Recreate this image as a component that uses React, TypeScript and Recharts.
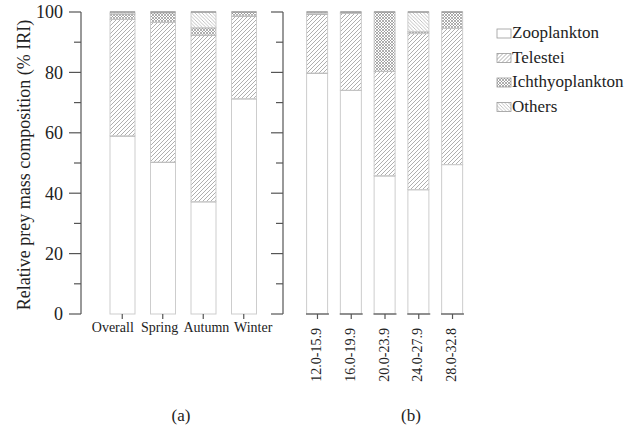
import React from "react";
import { BarChart, Bar, XAxis, YAxis } from "recharts";

// panel (a): by season
const seasonLabels = ["Overall", "Spring", "Autumn", "Winter"];
const seasonZooplankton = [59.0, 50.3, 37.2, 71.3];
const seasonTelestei = [38.6, 46.3, 55.2, 27.4];
const seasonIchthyoplankton = [1.8, 3.2, 2.4, 1.3];
const seasonOthers = [0.6, 0.2, 5.2, 0.0];

// panel (b): by size class
const sizeLabels = ["12.0-15.9", "16.0-19.9", "20.0-23.9", "24.0-27.9", "28.0-32.8"];
const sizeZooplankton = [79.8, 74.1, 45.8, 41.2, 49.5];
const sizeTelestei = [19.5, 25.5, 34.6, 51.7, 45.1];
const sizeIchthyoplankton = [0.2, 0.4, 19.6, 0.6, 5.4];
const sizeOthers = [0.5, 0.0, 0.0, 6.5, 0.0];

const yTicks = [0, 10, 20, 30, 40, 50, 60, 70, 80, 90, 100];
const yLabel = "Relative prey mass composition (% IRI)";

const series = [
  { key: "zoo", name: "Zooplankton", fill: "#ffffff" },
  { key: "tel", name: "Telestei", fill: "url(#patTel)" },
  { key: "ich", name: "Ichthyoplankton", fill: "url(#patIch)" },
  { key: "oth", name: "Others", fill: "url(#patOth)" },
];

const seasonRows = seasonLabels.map((label, i) => ({
  label,
  zoo: seasonZooplankton[i],
  tel: seasonTelestei[i],
  ich: seasonIchthyoplankton[i],
  oth: seasonOthers[i],
}));

const sizeRows = sizeLabels.map((label, i) => ({
  label,
  zoo: sizeZooplankton[i],
  tel: sizeTelestei[i],
  ich: sizeIchthyoplankton[i],
  oth: sizeOthers[i],
}));

const FONT = '"Liberation Serif", "Times New Roman", serif';
const INK = "#222";
const AXIS = "#555";

function Segment(props: any) {
  const { x, y, width, height, fill } = props;
  if (!height || height <= 0) return <g />;
  return (
    <g>
      <rect x={x} y={y} width={width} height={height} fill={fill} stroke="#cdcdcd" strokeWidth={1} />
      <line x1={x} x2={x + width} y1={y} y2={y} stroke="#8a8a8a" strokeWidth={1.2} />
    </g>
  );
}

function YTick(props: any) {
  const { y, payload, axisX, showLabel } = props;
  const major = payload.value % 20 === 0;
  return (
    <g>
      <line x1={axisX - (major ? 12 : 7)} x2={axisX} y1={y} y2={y} stroke={AXIS} strokeWidth={1.2} />
      {showLabel && major && (
        <text x={axisX - 18} y={y} dy="0.35em" textAnchor="end" fontSize={18} fill={INK} fontFamily={FONT}>
          {payload.value}
        </text>
      )}
    </g>
  );
}

// season labels are spread a little wider than the bars, as in the original figure
function SeasonTick(props: any) {
  const { x, y, payload, index, visibleTicksCount } = props;
  const n = visibleTicksCount || seasonLabels.length;
  const shift = (index - (n - 1) / 2) * 6.3;
  return (
    <text x={x + shift} y={y} dy="0.71em" textAnchor="middle" fontSize={14} fill={INK} fontFamily={FONT}>
      {payload.value}
    </text>
  );
}

function SizeTick(props: any) {
  const { x, payload, axisY } = props;
  return (
    <g>
      <line x1={x - 11.5} x2={x + 11.5} y1={axisY} y2={axisY} stroke={AXIS} strokeWidth={1.2} />
      <line x1={x} x2={x} y1={axisY} y2={axisY + 5} stroke={AXIS} strokeWidth={1.2} />
      <text
        x={x + 3.5}
        y={axisY + 14}
        transform={`rotate(-90, ${x + 3.5}, ${axisY + 14})`}
        textAnchor="end"
        fontSize={14}
        fill={INK}
        fontFamily={FONT}
      >
        {payload.value}
      </text>
    </g>
  );
}

function Patterns() {
  return (
    <svg width={0} height={0} style={{ position: "absolute" }}>
      <defs>
        <pattern id="patTel" patternUnits="userSpaceOnUse" width={4} height={4}>
          <rect width={4} height={4} fill="#fff" />
          <path d="M-1,1 l2,-2 M0,4 l4,-4 M3,5 l2,-2" stroke="#9a9a9a" strokeWidth={0.8} />
        </pattern>
        <pattern id="patIch" patternUnits="userSpaceOnUse" width={3} height={3}>
          <rect width={3} height={3} fill="#fff" />
          <path d="M-1,1 l2,-2 M0,3 l3,-3 M2,4 l2,-2 M-1,2 l2,2 M0,0 l3,3 M2,-1 l2,2" stroke="#8c8c8c" strokeWidth={0.7} />
        </pattern>
        <pattern id="patOth" patternUnits="userSpaceOnUse" width={3.5} height={3.5}>
          <rect width={3.5} height={3.5} fill="#fff" />
          <path d="M-1,2.5 l2,2 M0,0 l3.5,3.5 M2.5,-1 l2,2" stroke="#a8a8a8" strokeWidth={0.7} />
        </pattern>
      </defs>
    </svg>
  );
}

function LegendBox() {
  return (
    <svg width={130} height={100} style={{ position: "absolute", left: 494, top: 22 }}>
      {series.map((s, i) => (
        <g key={s.key} transform={`translate(0, ${i * 24.5})`}>
          <rect x={3} y={7} width={14} height={9} fill={s.fill} stroke="#999" strokeWidth={0.8} />
          <text x={18} y={16} fontSize={17} fill={INK} fontFamily={FONT}>
            {s.name}
          </text>
        </g>
      ))}
    </svg>
  );
}

export default function App() {
  return (
    <div
      style={{
        position: "absolute",
        left: 0,
        top: 0,
        width: 624,
        height: 427,
        background: "#fff",
        fontFamily: FONT,
      }}
    >
      <Patterns />
      <div style={{ position: "absolute", left: 0, top: 0 }}>
        <BarChart width={285} height={427} data={seasonRows} margin={{ top: 12, right: 0, left: 0, bottom: 0 }}>
          <YAxis
            width={81}
            domain={[0, 100]}
            ticks={yTicks}
            interval={0}
            axisLine={{ stroke: AXIS, strokeWidth: 1.2 }}
            tickLine={false}
            tick={(p: any) => <YTick {...p} axisX={81} showLabel />}
            label={{
              value: yLabel,
              content: (p: any) => {
                const vb = p.viewBox;
                const cx = 30;
                const cy = vb.y + vb.height / 2 + 2;
                return (
                  <text
                    x={cx}
                    y={cy}
                    transform={`rotate(-90, ${cx}, ${cy})`}
                    textAnchor="middle"
                    fontSize={18}
                    fill={INK}
                    fontFamily={FONT}
                  >
                    {yLabel}
                  </text>
                );
              },
            }}
          />
          <XAxis
            dataKey="label"
            height={113}
            padding={{ left: 21, right: 21 }}
            axisLine={false}
            tickLine={{ stroke: AXIS, strokeWidth: 1.2 }}
            tickSize={5}
            tickMargin={3}
            interval={0}
            tick={(p: any) => <SeasonTick {...p} />}
            label={{
              value: "(a)",
              content: (p: any) => {
                const vb = p.viewBox;
                return (
                  <text x={vb.x + vb.width / 2 - 2} y={vb.y + vb.height - 6} textAnchor="middle" fontSize={17} fill={INK} fontFamily={FONT}>
                    (a)
                  </text>
                );
              },
            }}
          />
          {series.map((s) => (
            <Bar
              key={s.key}
              dataKey={s.key}
              name={s.name}
              stackId="a"
              fill={s.fill}
              barSize={25}
              shape={<Segment />}
              isAnimationActive={false}
            />
          ))}
        </BarChart>
      </div>
      <div style={{ position: "absolute", left: 260, top: 0 }}>
        <BarChart width={227} height={427} data={sizeRows} margin={{ top: 12, right: 0, left: 0, bottom: 0 }}>
          <YAxis
            width={23}
            domain={[0, 100]}
            ticks={yTicks}
            interval={0}
            axisLine={{ stroke: AXIS, strokeWidth: 1.2 }}
            tickLine={false}
            tick={(p: any) => <YTick {...p} axisX={23} showLabel={false} />}
          />
          <XAxis
            dataKey="label"
            height={113}
            padding={{ left: 17.6, right: 17.6 }}
            axisLine={false}
            tickLine={false}
            interval={0}
            tick={(p: any) => <SizeTick {...p} axisY={314} />}
            label={{
              value: "(b)",
              content: (p: any) => {
                const vb = p.viewBox;
                return (
                  <text x={vb.x + vb.width / 2 + 26} y={vb.y + vb.height - 6} textAnchor="middle" fontSize={17} fill={INK} fontFamily={FONT}>
                    (b)
                  </text>
                );
              },
            }}
          />
          {series.map((s) => (
            <Bar
              key={s.key}
              dataKey={s.key}
              name={s.name}
              stackId="b"
              fill={s.fill}
              barSize={21}
              shape={<Segment />}
              isAnimationActive={false}
            />
          ))}
        </BarChart>
      </div>
      <LegendBox />
    </div>
  );
}
